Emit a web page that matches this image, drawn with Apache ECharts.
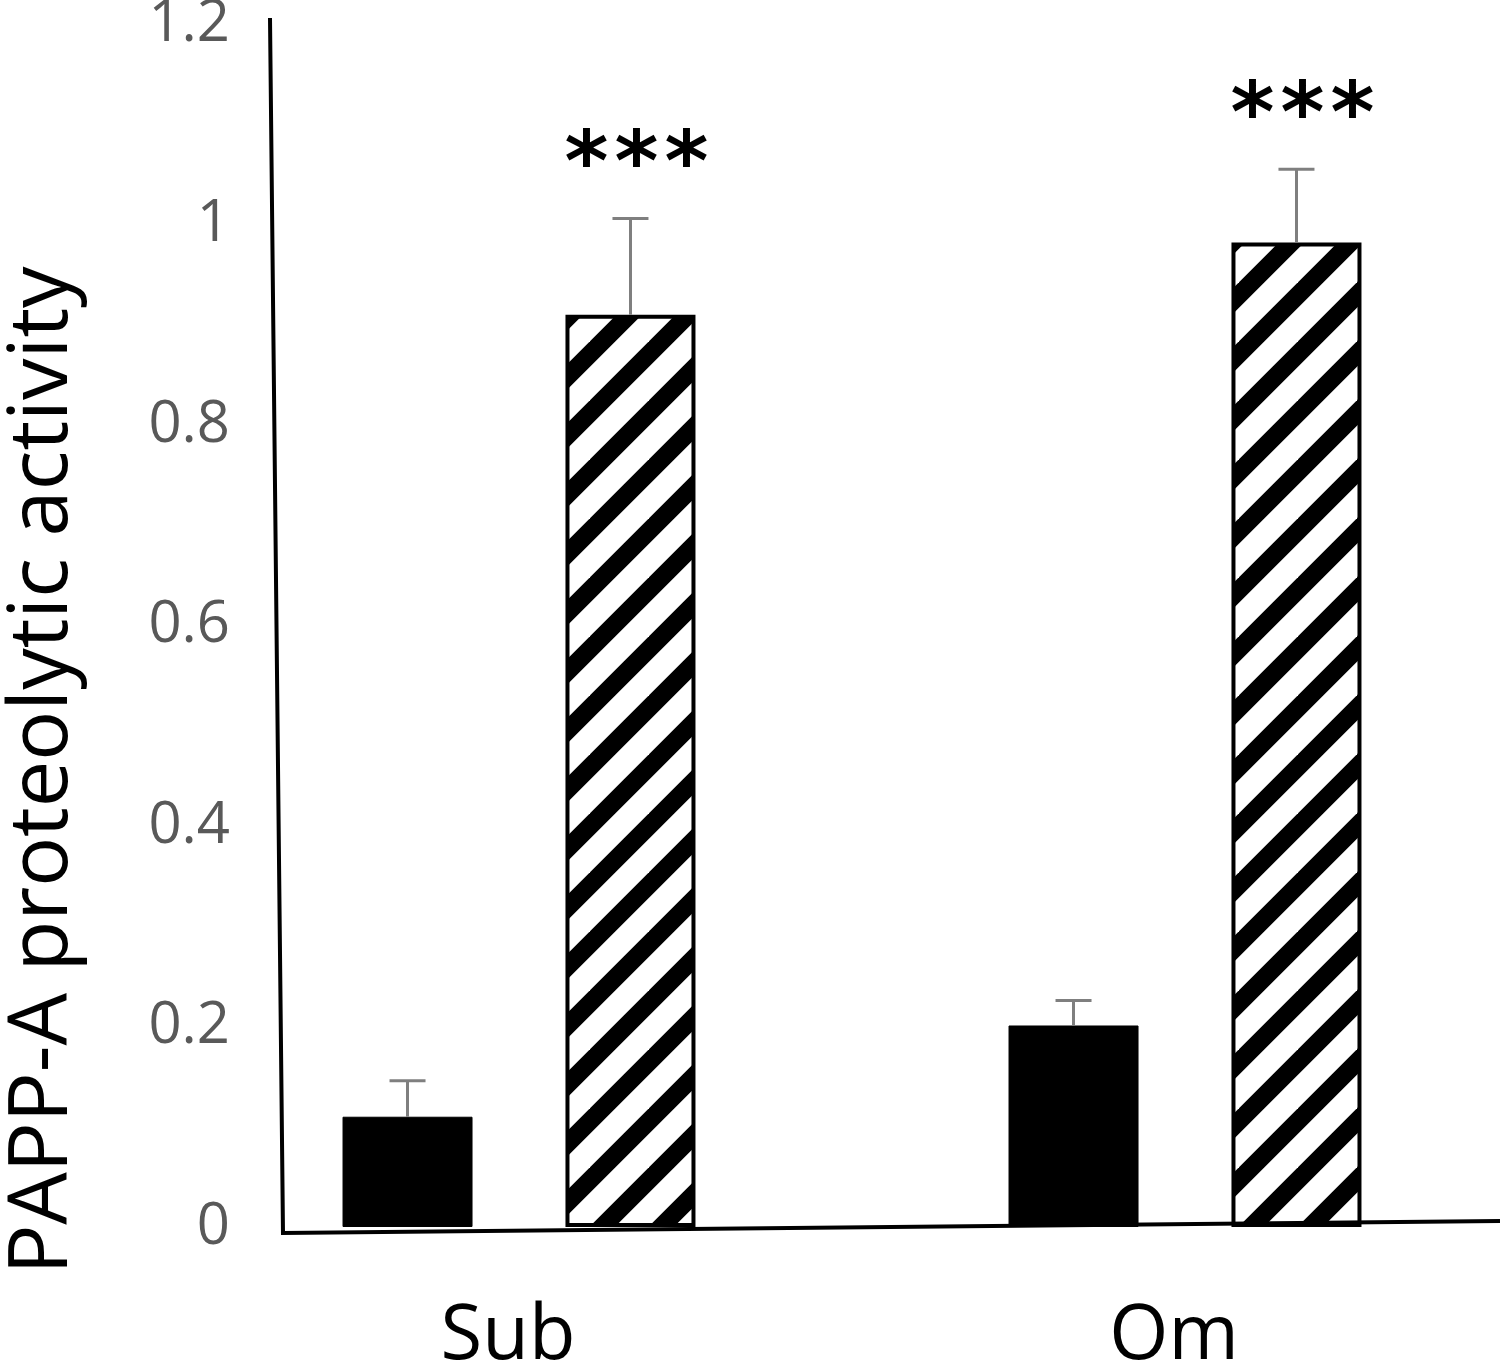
<!DOCTYPE html>
<html>
<head>
<meta charset="utf-8">
<title>PAPP-A proteolytic activity</title>
<script src="https://cdn.jsdelivr.net/npm/echarts@6.0.0/dist/echarts.min.js"></script>
<style>
  html, body { margin: 0; padding: 0; background: #fff; }
  #chart { width: 1500px; height: 1364px; }
</style>
</head>
<body>
<div id="chart"></div>
<script>
// values
var categories = ['Sub', 'Om'];
var controlMean = [0.110, 0.201];
var controlErr = [0.036, 0.025];
var treatedMean = [0.910, 0.982];
var treatedErr = [0.096, 0.073];
var treatedSig = ['***', '***'];
var yTicks = { min: 0, max: 1.2, interval: 0.2 };

var barWidth = 130;
var barGap = 0.715;

// diagonal hatch tile for the second series
function hatchPattern() {
  var T = 59;
  var c = document.createElement('canvas');
  c.width = T;
  c.height = T;
  var ctx = c.getContext('2d');
  ctx.fillStyle = '#fff';
  ctx.fillRect(0, 0, T, T);
  ctx.strokeStyle = '#000';
  ctx.lineWidth = 18;
  [0, T, 2 * T].forEach(function (k) {
    ctx.beginPath();
    ctx.moveTo(k + T, -T);
    ctx.lineTo(k - 2 * T, 2 * T);
    ctx.stroke();
  });
  return c;
}

function errorData(mean, err) {
  return mean.map(function (m, i) {
    return [i, m, m + err[i]];
  });
}

function errorRender(side, labels) {
  return function (params, api) {
    var off = side * barWidth * (1 + barGap) / 2;
    var idx = api.value(0);
    var base = api.coord([idx, api.value(1)]);
    var top = api.coord([idx, api.value(2)]);
    var x = base[0] + off;
    var style = { stroke: '#7f7f7f', lineWidth: 3 };
    var children = [
      { type: 'line', shape: { x1: x, y1: base[1], x2: x, y2: top[1] }, style: style },
      { type: 'line', shape: { x1: x - 18, y1: top[1], x2: x + 18, y2: top[1] }, style: style }
    ];
    var lab = labels && labels[params.dataIndex];
    if (lab) {
      // one glyph at a time, the stars are widely spaced
      for (var i = 0; i < lab.length; i++) {
        children.push({
          type: 'text',
          style: {
            text: lab.charAt(i),
            x: x + 6 + (i - (lab.length - 1) / 2) * 50,
            y: top[1] - 50,
            fill: '#000',
            font: 'bold 84px "DejaVu Sans"',
            align: 'center',
            verticalAlign: 'middle'
          }
        });
      }
    }
    return { type: 'group', children: children };
  };
}

var chart = echarts.init(document.getElementById('chart'));

var option = {
  backgroundColor: '#fff',
  animation: false,
  grid: {
    left: 186,
    right: -18,
    top: 24,
    bottom: 137,
    outerBoundsMode: 'none'
  },
  xAxis: {
    type: 'category',
    data: categories,
    axisLine: { show: false },
    axisTick: { show: false },
    axisLabel: {
      margin: 72,
      color: '#000',
      fontSize: 76,
      fontFamily: 'Open Sans',
      padding: [0, 22, 0, 0]
    }
  },
  yAxis: {
    type: 'value',
    min: yTicks.min,
    max: yTicks.max,
    interval: yTicks.interval,
    offset: -91,
    name: 'PAPP-A proteolytic activity',
    nameLocation: 'middle',
    nameGap: 192,
    nameTextStyle: {
      color: '#000',
      fontSize: 83,
      fontFamily: 'Open Sans',
      padding: [0, 290, 0, 0]
    },
    axisLine: { show: false },
    axisTick: { show: false },
    splitLine: { show: false },
    axisLabel: {
      margin: 47,
      color: '#595959',
      fontSize: 58,
      fontFamily: 'Open Sans'
    }
  },
  series: [
    {
      name: 'control',
      type: 'bar',
      barWidth: barWidth,
      barGap: (barGap * 100) + '%',
      itemStyle: { color: '#000', borderColor: '#000', borderWidth: 1 },
      data: controlMean
    },
    {
      name: 'treated',
      type: 'bar',
      barWidth: barWidth,
      itemStyle: {
        color: { image: hatchPattern(), repeat: 'repeat' },
        borderColor: '#000',
        borderWidth: 4
      },
      data: treatedMean
    },
    {
      type: 'custom',
      renderItem: errorRender(-1, null),
      data: errorData(controlMean, controlErr),
      z: 5
    },
    {
      type: 'custom',
      renderItem: errorRender(1, treatedSig),
      data: errorData(treatedMean, treatedErr),
      z: 5
    }
  ]
};

chart.setOption(option);

// axis lines, slightly skewed like the scanned original
var y0 = chart.convertToPixel({ yAxisIndex: 0 }, 0);
chart.setOption({
  graphic: [
    {
      type: 'polyline',
      shape: { points: [[270, 18], [283, y0 + 6], [1500, y0 - 6]] },
      style: { stroke: '#000', lineWidth: 4, fill: null },
      z: 10
    }
  ]
});
</script>
</body>
</html>
